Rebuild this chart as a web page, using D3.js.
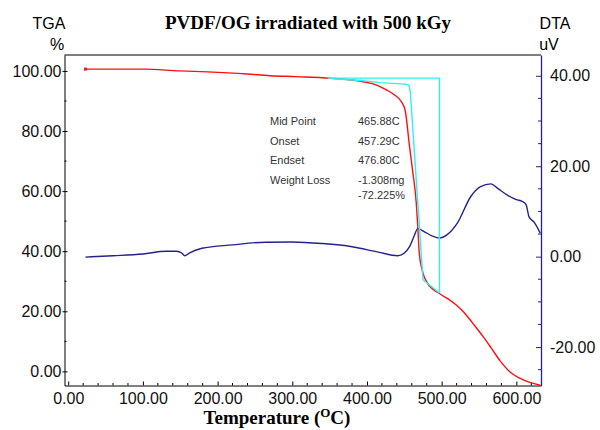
<!DOCTYPE html>
<html>
<head>
<meta charset="utf-8">
<script src="https://cdn.jsdelivr.net/npm/d3@7/dist/d3.min.js"></script>
<style>
  body { margin: 0; background: #fff; }
  svg { display: block; }
  .tick text { font-family: "Liberation Sans", Arial, sans-serif; font-size: 16px; fill: #111; }
</style>
</head>
<body>
<svg id="chart" width="600" height="430"></svg>
<script>
// TGA curve (temperature in C, weight in %)
var tgaTemp = [23, 101, 149, 186, 239, 270, 305, 350, 395, 413, 426, 437, 446, 451, 457, 461, 466, 468, 470, 475, 481, 497, 510, 520, 530, 542, 556, 566, 578, 592, 610, 632];
var tgaValue = [100.6, 100.6, 100.0, 99.7, 99.0, 98.4, 98.1, 97.6, 96.4, 95.3, 93.7, 92.0, 89.8, 87.0, 74.8, 67.0, 56.0, 48.2, 39.4, 32.7, 29.4, 25.9, 23.9, 22.0, 19.6, 15.9, 11.4, 7.9, 3.6, -0.3, -2.9, -4.6];

// DTA curve (temperature in C, signal in uV)
var dtaTemp = [23, 60, 100, 131, 145, 152, 156, 162, 179, 220, 264, 300, 340, 380, 415, 441, 450, 457, 463, 468, 477, 487, 497, 507, 521, 539, 552, 566, 575, 588, 600, 608, 613, 617, 624, 632];
var dtaValue = [-0.1, 0.2, 0.6, 1.2, 1.2, 0.8, 0.2, 0.8, 1.85, 2.6, 3.2, 3.25, 2.9, 2.2, 1.0, 0.2, 0.8, 2.2, 4.5, 6.2, 5.5, 4.6, 4.1, 4.8, 7.4, 13.3, 15.5, 16.1, 15.1, 13.6, 12.6, 12.2, 11.5, 8.8, 7.6, 5.2];

// step analysis lines (cyan)
var stepTemp = [348, 497, 497];
var stepValue = [97.6, 97.6, 26.1];
var fitTemp = [350, 391, 418, 451, 456, 458, 475, 497];
var fitValue = [97.5, 96.8, 96.1, 95.6, 95.3, 93.1, 30.5, 26.1];

// result box
var resultNames = ['Mid Point', 'Onset', 'Endset', 'Weight Loss', ''];
var resultValues = ['465.88C', '457.29C', '476.80C', '-1.308mg', '-72.225%'];

var xTicks = [0, 100, 200, 300, 400, 500, 600];
var tgaTicks = [0, 20, 40, 60, 80, 100];
var dtaTicks = [-20, 0, 20, 40];

var svg = d3.select('#chart');
var plotLeft = 64.5, plotRight = 541, plotTop = 55, plotBottom = 385.5;

var x = d3.scaleLinear().domain([-5, 633]).range([plotLeft, plotRight]);
var yL = d3.scaleLinear().domain([-4.7, 105.3]).range([plotBottom, plotTop]);
var yR = d3.scaleLinear().domain([-28.5, 44.6]).range([plotBottom, plotTop]);

var navy = '#23238e';
var fmt = function (d) { return d.toFixed(2); }; // plain hyphen for negatives

// frame top line
svg.append('line')
  .attr('x1', plotLeft).attr('x2', plotRight).attr('y1', plotTop).attr('y2', plotTop)
  .attr('stroke', '#000').attr('stroke-width', 1);

// minor ticks
function minor(axis, scale, vals, len, color) {
  axis.append('g').selectAll('line').data(vals).enter().append('line')
    .attr('stroke', color).attr('stroke-width', 1)
    .each(function (d) {
      var el = d3.select(this);
      if (axis.attr('data-o') === 'b') el.attr('x1', scale(d)).attr('x2', scale(d)).attr('y1', 0).attr('y2', -len);
      else if (axis.attr('data-o') === 'l') el.attr('y1', scale(d)).attr('y2', scale(d)).attr('x1', 0).attr('x2', len);
      else el.attr('y1', scale(d)).attr('y2', scale(d)).attr('x1', 0).attr('x2', -len);
    });
}

var gx = svg.append('g').attr('data-o', 'b').attr('transform', 'translate(0,' + plotBottom + ')')
  .call(d3.axisBottom(x).tickValues(xTicks).tickFormat(fmt).tickSize(-4).tickPadding(7).tickSizeOuter(0));
gx.select('.domain').attr('stroke', '#000');
minor(gx, x, d3.range(20, 633, 20).filter(function (d) { return d % 100 !== 0; }), 2.5, '#000');

var gl = svg.append('g').attr('data-o', 'l').attr('transform', 'translate(' + plotLeft + ',0)')
  .call(d3.axisLeft(yL).tickValues(tgaTicks).tickFormat(fmt).tickSize(-3).tickPadding(3).tickSizeOuter(0));
gl.selectAll('.tick line').attr('x1', -2);
minor(gl, yL, [10, 30, 50, 70, 90], 2, '#000');

var gr = svg.append('g').attr('data-o', 'r').attr('transform', 'translate(' + plotRight + ',0)')
  .call(d3.axisRight(yR).tickValues(dtaTicks).tickFormat(fmt).tickSize(-5).tickPadding(9).tickSizeOuter(0));
gr.select('.domain').attr('stroke', navy).attr('stroke-width', 1.3);
gr.selectAll('.tick line').attr('stroke', navy);
minor(gr, yR, [-25, -15, -10, -5, 5, 10, 15, 25, 30, 35], 3, navy);

// curves
var tgaLine = d3.line().x(function (d) { return x(d[0]); }).y(function (d) { return yL(d[1]); }).curve(d3.curveMonotoneX);
var dtaLine = d3.line().x(function (d) { return x(d[0]); }).y(function (d) { return yR(d[1]); }).curve(d3.curveMonotoneX);
var plain = d3.line().x(function (d) { return x(d[0]); }).y(function (d) { return yL(d[1]); });

svg.append('path').datum(d3.zip(dtaTemp, dtaValue))
  .attr('d', dtaLine).attr('fill', 'none').attr('stroke', navy).attr('stroke-width', 1.4);
svg.append('path').datum(d3.zip(tgaTemp, tgaValue))
  .attr('d', tgaLine).attr('fill', 'none').attr('stroke', '#ff1010').attr('stroke-width', 1.4);
svg.append('path').datum(d3.zip(stepTemp, stepValue))
  .attr('d', plain).attr('fill', 'none').attr('stroke', '#30f0f0').attr('stroke-width', 1.4);
svg.append('path').datum(d3.zip(fitTemp, fitValue))
  .attr('d', plain).attr('fill', 'none').attr('stroke', '#30f0f0').attr('stroke-width', 1.4);

// start marker
svg.append('rect').attr('x', x(tgaTemp[0]) - 1.5).attr('y', yL(tgaValue[0]) - 1.5).attr('width', 3).attr('height', 3).attr('fill', '#ff1010');

// result text
var res = svg.append('g').style('font-family', '"Liberation Sans", Arial, sans-serif').style('font-size', '11px').attr('fill', '#333');
resultNames.forEach(function (n, i) {
  var yy = 125 + i * 19.5 - (i === 4 ? 4.5 : 0);
  res.append('text').attr('x', 270).attr('y', yy).text(n);
  res.append('text').attr('x', 358).attr('y', yy).text(resultValues[i]);
});

// titles
svg.append('text').attr('x', 308).attr('y', 29).attr('text-anchor', 'middle')
  .style('font-family', '"Liberation Serif", "Times New Roman", serif').style('font-weight', 'bold').style('font-size', '19px')
  .text('PVDF/OG irradiated with 500 kGy');

var sans = '"Liberation Sans", Arial, sans-serif';
svg.append('text').attr('x', 49).attr('y', 29).attr('text-anchor', 'middle').style('font-family', sans).style('font-size', '16px').text('TGA');
svg.append('text').attr('x', 57).attr('y', 50).attr('text-anchor', 'middle').style('font-family', sans).style('font-size', '16px').text('%');
svg.append('text').attr('x', 555).attr('y', 29).attr('text-anchor', 'middle').style('font-family', sans).style('font-size', '16px').text('DTA');
svg.append('text').attr('x', 549).attr('y', 50).attr('text-anchor', 'middle').style('font-family', sans).style('font-size', '16px').text('uV');

var xt = svg.append('text').attr('x', 277).attr('y', 424).attr('text-anchor', 'middle')
  .style('font-family', '"Liberation Serif", "Times New Roman", serif').style('font-weight', 'bold').style('font-size', '19px');
xt.append('tspan').text('Temperature (');
xt.append('tspan').attr('dy', -7).style('font-size', '13px').text('O');
xt.append('tspan').attr('dy', 7).text('C)');
</script>
</body>
</html>
